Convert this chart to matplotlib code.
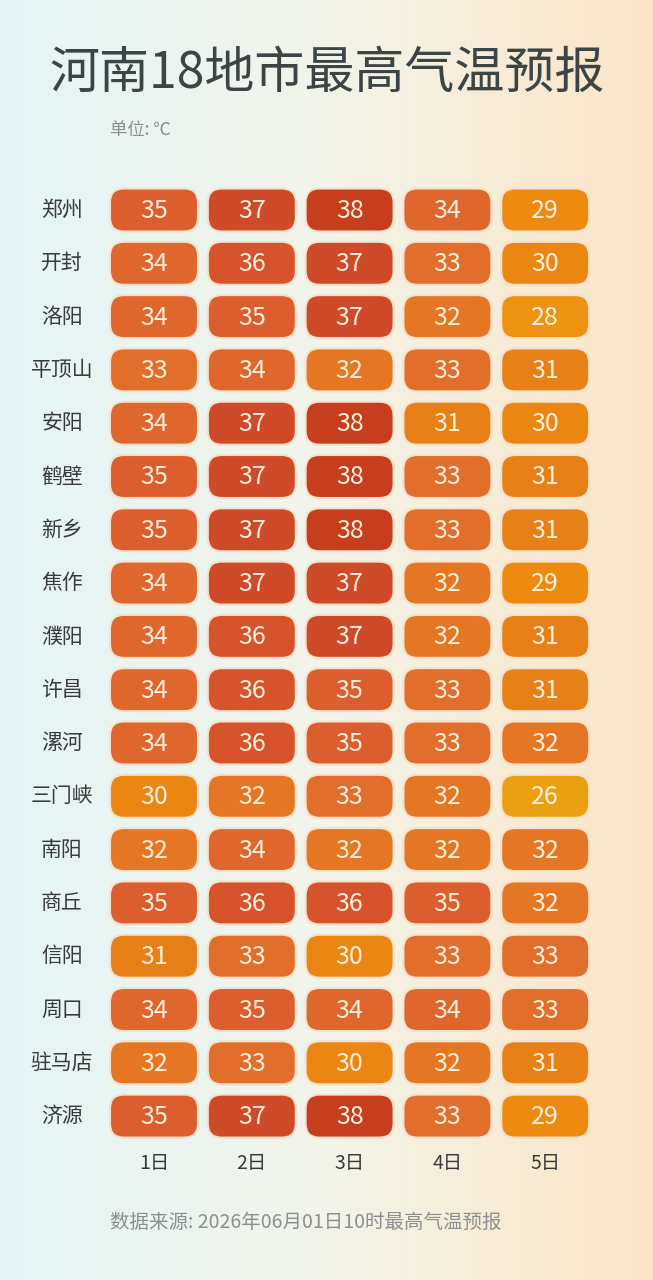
import numpy as np
import matplotlib
matplotlib.use("Agg")
import matplotlib.pyplot as plt
from matplotlib.patches import FancyBboxPatch
from matplotlib.colors import LinearSegmentedColormap

plt.rcParams['font.family'] = ['Noto Sans CJK SC', 'DejaVu Sans']

cities = ["郑州", "开封", "洛阳", "平顶山", "安阳", "鹤壁", "新乡", "焦作", "濮阳",
          "许昌", "漯河", "三门峡", "南阳", "商丘", "信阳", "周口", "驻马店", "济源"]
days = ["1日", "2日", "3日", "4日", "5日"]
temps = np.array([
    [35, 37, 38, 34, 29],
    [34, 36, 37, 33, 30],
    [34, 35, 37, 32, 28],
    [33, 34, 32, 33, 31],
    [34, 37, 38, 31, 30],
    [35, 37, 38, 33, 31],
    [35, 37, 38, 33, 31],
    [34, 37, 37, 32, 29],
    [34, 36, 37, 32, 31],
    [34, 36, 35, 33, 31],
    [34, 36, 35, 33, 32],
    [30, 32, 33, 32, 26],
    [32, 34, 32, 32, 32],
    [35, 36, 36, 35, 32],
    [31, 33, 30, 33, 33],
    [34, 35, 34, 34, 33],
    [32, 33, 30, 32, 31],
    [35, 37, 38, 33, 29],
])

cmap = LinearSegmentedColormap.from_list("heat", [
    (0.0, "#eba012"), (0.25, "#ee8a10"), (0.4, "#e98216"),
    (0.55, "#e3722a"), (0.75, "#dc5d2e"), (0.9, "#d14c2a"), (1.0, "#c63e1e")])
tmin, tmax = 26, 38

fig = plt.figure(figsize=(6.53, 12.8), dpi=100)
ax = fig.add_axes([0, 0, 1, 1])
ax.set_xlim(0, 653)
ax.set_ylim(1280, 0)
ax.axis("off")

# background gradient
bg = LinearSegmentedColormap.from_list("bg", ["#e4f5f6", "#f3f4ea", "#fbe5c6"])
ax.imshow(np.linspace(0, 1, 256)[None, :], cmap=bg, aspect="auto",
          extent=[0, 653, 1280, 0], zorder=0)

ax.text(327, 74, "河南18地市最高气温预报", ha="center", va="center",
        fontsize=36, color="#3c4545")
ax.text(110, 130, "单位: ℃", ha="left", va="center", fontsize=12.5, color="#8a8f8f")

x0, dx = 154, 97.8
y0, dy = 210, 53.3
w, h = 88, 43
for i, city in enumerate(cities):
    y = y0 + i * dy
    ax.text(62, y, city, ha="center", va="center", fontsize=15, color="#3a3a3a")
    for j in range(len(days)):
        x = x0 + j * dx
        v = temps[i, j]
        c = cmap((v - tmin) / (tmax - tmin))
        ax.add_patch(FancyBboxPatch((x - w / 2, y - h / 2), w, h,
                                    boxstyle="round,pad=0,rounding_size=14",
                                    facecolor=c, edgecolor="#f6e2cc", lw=1.5, zorder=2))
        ax.text(x, y + 1, str(v), ha="center", va="center", fontsize=18,
                color="#fdf1de", zorder=3)

for j, d in enumerate(days):
    ax.text(x0 + j * dx, 1164, d, ha="center", va="center", fontsize=14, color="#3a3a3a")

ax.text(110, 1222, "数据来源: 2026年06月01日10时最高气温预报", ha="left", va="center",
        fontsize=14, color="#8a8f8f")

fig.savefig("out.png", dpi=100)
